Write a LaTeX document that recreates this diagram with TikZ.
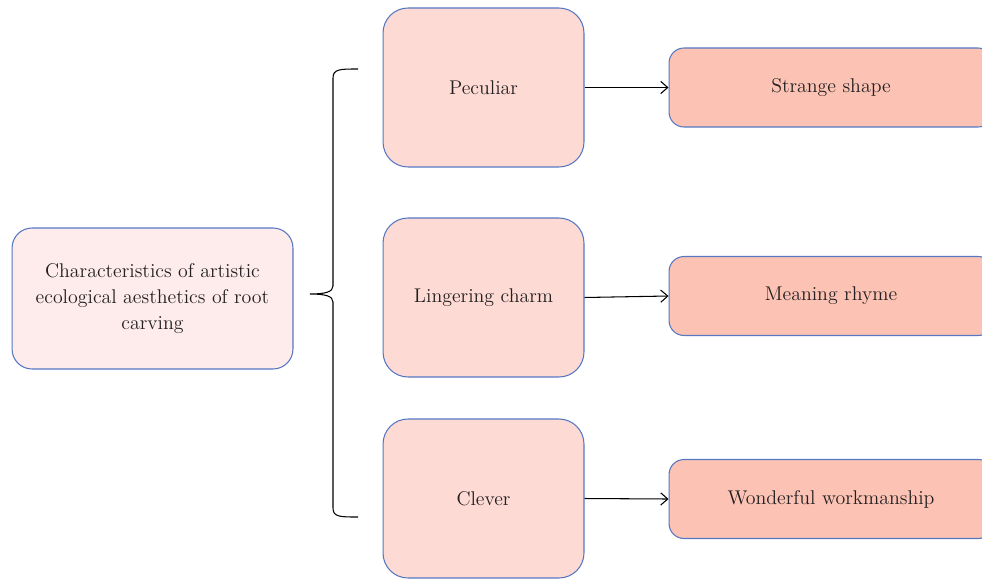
\documentclass[tikz,border=0pt]{standalone}
\usetikzlibrary{arrows.meta}
\definecolor{edgeblue}{HTML}{5677C2}
\definecolor{rootfill}{HTML}{FDECEB}
\definecolor{midfill}{HTML}{FDDAD4}
\definecolor{leaffill}{HTML}{FCC3B5}
\definecolor{inkgrey}{HTML}{231F20}
\tikzset{
  every node/.style={font=\fontsize{11.3}{15}\selectfont,text=inkgrey},
  rootbox/.style={draw=edgeblue,line width=0.6pt,fill=rootfill,rounded corners=0.4cm,minimum width=5.62cm,minimum height=2.82cm,align=center,anchor=center},
  midbox/.style={draw=edgeblue,line width=0.6pt,fill=midfill,rounded corners=0.5cm,minimum width=4.02cm,minimum height=3.18cm,anchor=center},
  leafbox/.style={draw=edgeblue,line width=0.6pt,fill=leaffill,rounded corners=0.3cm,minimum width=6.48cm,minimum height=1.58cm,anchor=center},
  link/.style={line width=0.6pt,-{Straight Barb[length=4pt,width=7pt]}}
}
\begin{document}
\begin{tikzpicture}[x=0.02cm,y=-0.02cm]
        \useasboundingbox (0,0) rectangle (982,578);
        \clip (0,0) rectangle (982,578);
        \fill[white] (0,0) rectangle (982,578);
        \node[rootbox] (root) at (152.5,298.5) {Characteristics of artistic\\ecological aesthetics of root\\carving};
        \node[midbox] (peculiar) at (483.5,87.5) {Peculiar};
        \node[midbox] (charm) at (483.5,297.5) {Lingering charm};
        \node[midbox] (clever) at (483.5,498.5) {Clever};
        \node[leafbox] (shape) at (831,87.5) {Strange shape};
        \node[leafbox] (rhyme) at (831,296) {Meaning rhyme};
        \node[leafbox] (work) at (831,499) {Wonderful workmanship};
        % brace
        \coordinate (btop) at (358,69);
        \coordinate (bbot) at (358,517);
        \coordinate (btip) at (310,294);
        \draw[line width=0.6pt] (btop) .. controls (340,69) and (333,69) .. (333,78)
          -- (333,286) .. controls (333,292) and (325,294) .. (btip)
          .. controls (325,294) and (333,296) .. (333,302)
          -- (333,508) .. controls (333,517) and (340,517) .. (bbot);
        \draw[link] (peculiar.east) -- (shape.west);
        \draw[link] (charm.east) -- (rhyme.west);
        \draw[link] (clever.east) -- (work.west);
    \end{tikzpicture}
\end{document}
